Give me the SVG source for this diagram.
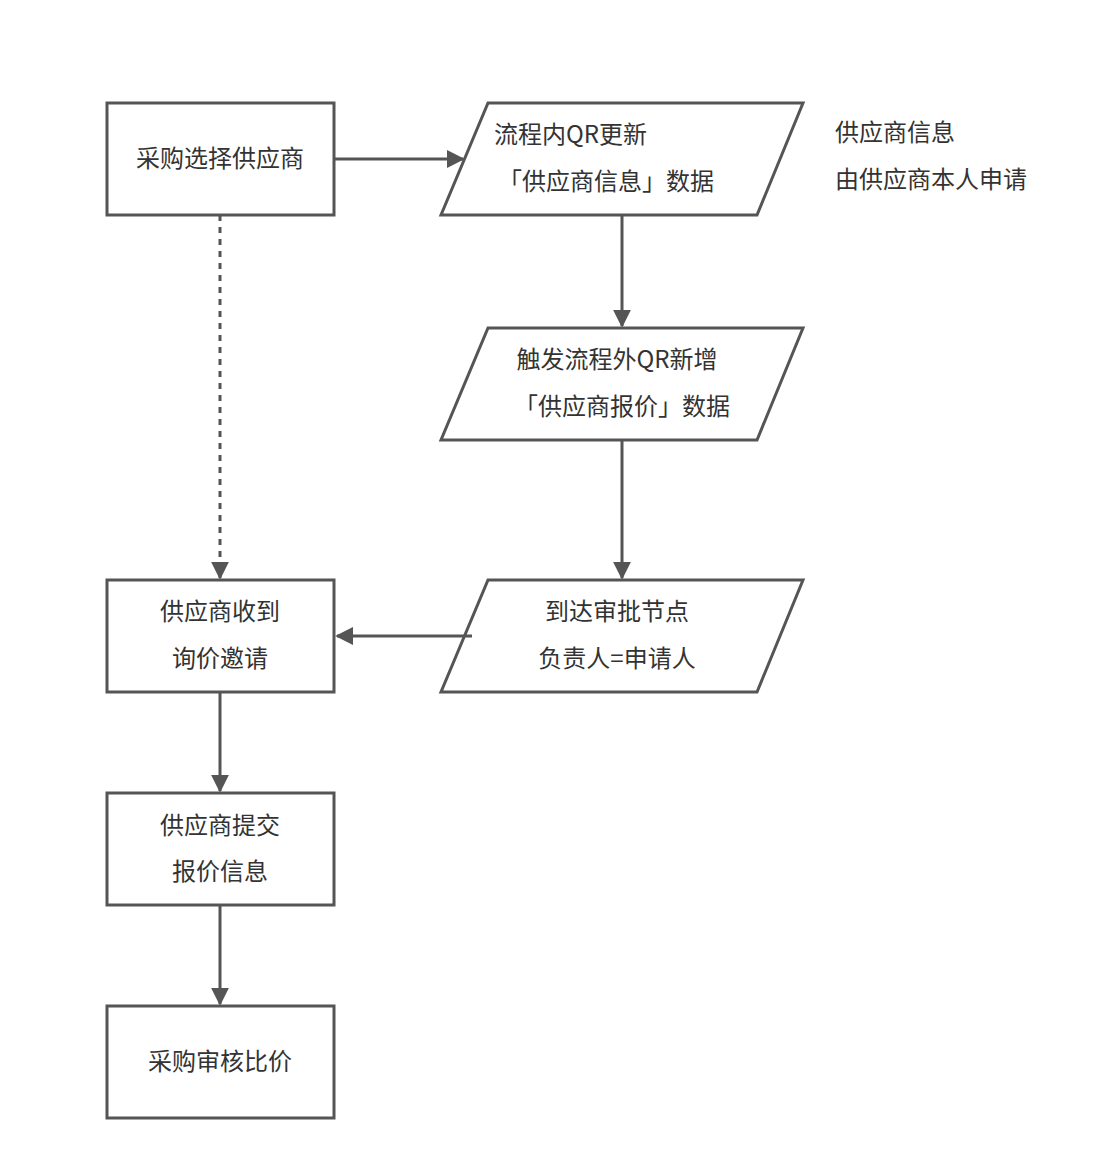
<svg xmlns="http://www.w3.org/2000/svg" width="1110" height="1160" viewBox="0 0 1110 1160">
<style>
.s{fill:#fff;stroke:#555;stroke-width:3}
.t{font-family:"Noto Sans CJK SC","Liberation Sans",sans-serif;font-size:24px;fill:#333;text-anchor:middle}
.ts{font-family:"Noto Sans CJK SC","Liberation Sans",sans-serif;font-size:24px;fill:#333}
.c{fill:none;stroke:#555;stroke-width:3}
</style>
<defs><marker id="a" viewBox="0 0 10 10" refX="9" refY="5" markerWidth="6" markerHeight="6" markerUnits="userSpaceOnUse" orient="auto"><path d="M0,0L10,5L0,10z" fill="#555"/></marker>
<marker id="b" viewBox="0 0 10 10" refX="9" refY="5" markerWidth="6" markerHeight="6" orient="auto"><path d="M0,0L10,5L0,10z" fill="#555"/></marker></defs>
<rect width="1110" height="1160" fill="#fff"/>
<g id="n1"><rect class="s" x="107" y="103" width="227" height="112"/><text class="t" x="220" y="167">采购选择供应商</text></g>
<g id="n2"><polygon class="s" points="488,103 803,103 757,215 441,215"/><text class="ts" x="494" y="143">流程内QR更新</text><text class="ts" x="498" y="190">「供应商信息」数据</text></g>
<g id="note"><text class="ts" x="835" y="141">供应商信息</text><text class="ts" x="835" y="188">由供应商本人申请</text></g>
<g id="n3"><polygon class="s" points="488,328 803,328 757,440 441,440"/><text class="t" x="617" y="368">触发流程外QR新增</text><text class="t" x="622" y="415">「供应商报价」数据</text></g>
<g id="n4"><polygon class="s" points="488,580 803,580 757,692 441,692"/><text class="t" x="617" y="620">到达审批节点</text><text class="t" x="617" y="667">负责人=申请人</text></g>
<g id="n5"><rect class="s" x="107" y="580" width="227" height="112"/><text class="t" x="220" y="620">供应商收到</text><text class="t" x="220" y="667">询价邀请</text></g>
<g id="n6"><rect class="s" x="107" y="793" width="227" height="112"/><text class="t" x="220" y="834">供应商提交</text><text class="t" x="220" y="880">报价信息</text></g>
<g id="n7"><rect class="s" x="107" y="1006" width="227" height="112"/><text class="t" x="220" y="1070">采购审核比价</text></g>
<g id="connectors">
<path class="c" d="M334,159H463" marker-end="url(#b)"/>
<path class="c" d="M622,215V326" marker-end="url(#b)"/>
<path class="c" d="M622,440V578" marker-end="url(#b)"/>
<path class="c" d="M472,636H337" marker-end="url(#b)"/>
<path class="c" d="M220,215V578" stroke-dasharray="6,6" marker-end="url(#b)"/>
<path class="c" d="M220,692V791" marker-end="url(#b)"/>
<path class="c" d="M220,905V1004" marker-end="url(#b)"/>
</g>
</svg>
